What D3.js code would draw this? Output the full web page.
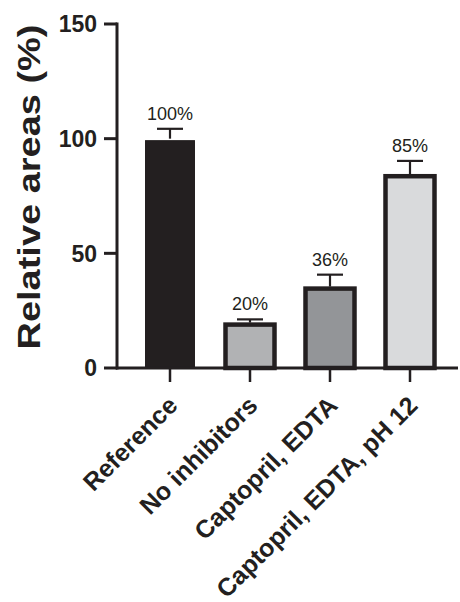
<!DOCTYPE html>
<meta charset="utf-8">
<style>
body { margin: 0; background: #fff; }
.chart text { font-family: "Liberation Sans", Arial, sans-serif; fill: #231f20; }
.tick-label { font-size: 23px; font-weight: bold; }
.cat-label { font-size: 25px; font-weight: bold; }
.val-label { font-size: 18px; fill: #333; }
</style>
<svg class="chart"></svg>
<script src="https://d3js.org/d3.v7.min.js"></script>
<script>

var categories = ["Reference", "No inhibitors", "Captopril, EDTA", "Captopril, EDTA, pH 12"];
var values = [100, 19.8, 35.5, 84.5];
var errors = [4.3, 1.4, 5.2, 5.8];
var valueLabels = ["100%", "20%", "36%", "85%"];
var fills = ["#231f20", "#b1b2b4", "#939598", "#d9dadc"];
var yTicks = [0, 50, 100, 150];

var width = 460,
    height = 602,
    ink = "#231f20";

var svg = d3.select(".chart")
    .attr("width", width)
    .attr("height", height);

var x = d3.scaleBand()
    .domain(categories)
    .range([130, 450])
    .paddingInner(0.3375)
    .paddingOuter(0.16875);

var y = d3.scaleLinear()
    .domain([0, 150])
    .range([368, 24]);

// y axis
svg.append("line")
    .attr("x1", 117).attr("x2", 117)
    .attr("y1", y(150) - 1.5).attr("y2", y(0) + 1.5)
    .attr("stroke", ink).attr("stroke-width", 3);

svg.selectAll(".ytick")
    .data(yTicks)
  .enter().append("line")
    .attr("x1", 104).attr("x2", 117)
    .attr("y1", function(d) { return y(d); })
    .attr("y2", function(d) { return y(d); })
    .attr("stroke", ink).attr("stroke-width", 3);

svg.selectAll(".tick-label")
    .data(yTicks)
  .enter().append("text")
    .attr("class", "tick-label")
    .attr("x", 97)
    .attr("y", function(d) { return y(d); })
    .attr("dy", "0.36em")
    .attr("text-anchor", "end")
    .text(function(d) { return d; });

svg.append("text")
    .attr("class", "tick-label")
    .attr("transform", "translate(40," + 187 + ") rotate(-90)")
    .attr("text-anchor", "middle")
    .attr("textLength", 325)
    .attr("lengthAdjust", "spacingAndGlyphs")
    .style("font-size", "31px")
    .text("Relative areas (%)");

// bars
var bar = svg.selectAll(".bar")
    .data(categories)
  .enter().append("g")
    .attr("class", "bar");

bar.append("rect")
    .attr("x", function(d) { return x(d) + 2; })
    .attr("width", x.bandwidth() - 4)
    .attr("y", function(d, i) { return y(values[i]) + 2; })
    .attr("height", function(d, i) { return y(0) - y(values[i]) - 2; })
    .attr("fill", function(d, i) { return fills[i]; })
    .attr("stroke", ink)
    .attr("stroke-width", function(d, i) { return i === 0 ? 1 : 4.5; });

// error bars
bar.append("line")
    .attr("x1", function(d) { return x(d) + x.bandwidth() / 2; })
    .attr("x2", function(d) { return x(d) + x.bandwidth() / 2; })
    .attr("y1", function(d, i) { return y(values[i]); })
    .attr("y2", function(d, i) { return y(values[i] + errors[i]); })
    .attr("stroke", ink).attr("stroke-width", 2.2);

bar.append("line")
    .attr("x1", function(d) { return x(d) + x.bandwidth() / 2 - 13; })
    .attr("x2", function(d) { return x(d) + x.bandwidth() / 2 + 13; })
    .attr("y1", function(d, i) { return y(values[i] + errors[i]); })
    .attr("y2", function(d, i) { return y(values[i] + errors[i]); })
    .attr("stroke", ink).attr("stroke-width", 2.2);

bar.append("text")
    .attr("class", "val-label")
    .attr("x", function(d) { return x(d) + x.bandwidth() / 2; })
    .attr("y", function(d, i) { return y(values[i] + errors[i]) - 9; })
    .attr("text-anchor", "middle")
    .text(function(d, i) { return valueLabels[i]; });

// x axis
svg.append("line")
    .attr("x1", 116).attr("x2", 458)
    .attr("y1", y(0)).attr("y2", y(0))
    .attr("stroke", ink).attr("stroke-width", 3);

svg.selectAll(".xtick")
    .data(categories)
  .enter().append("line")
    .attr("x1", function(d) { return x(d) + x.bandwidth() / 2; })
    .attr("x2", function(d) { return x(d) + x.bandwidth() / 2; })
    .attr("y1", y(0)).attr("y2", y(0) + 14)
    .attr("stroke", ink).attr("stroke-width", 2.5);

svg.selectAll(".cat-label")
    .data(categories)
  .enter().append("text")
    .attr("class", "cat-label")
    .attr("text-anchor", "end")
    .attr("transform", function(d) {
      return "translate(" + (x(d) + x.bandwidth() / 2 + 9) + "," + 407 + ") rotate(-45)";
    })
    .text(function(d) { return d; });

</script>
